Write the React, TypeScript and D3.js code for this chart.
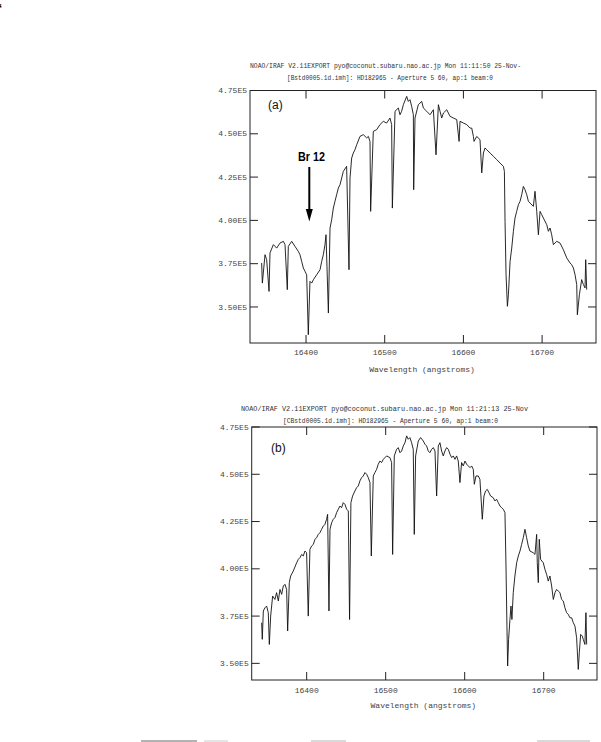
import React from 'react';
import * as d3 from 'd3';

// ---------- Data (flux in units of 1E5) ----------
const wavelengthA = [16343.6,16344.5,16347.9,16350.0,16353.0,16354.2,16358.5,16362.7,16366.9,16371.2,16373.3,16376.2,16377.5,16381.8,16386.0,16390.2,16392.3,16394.5,16396.6,16398.7,16400.8,16402.9,16405.0,16407.2,16409.3,16413.5,16417.8,16419.9,16422.0,16424.1,16425.4,16428.4,16430.5,16432.6,16434.7,16436.8,16438.9,16441.1,16443.2,16447.4,16451.6,16454.6,16455.9,16458.0,16460.1,16462.2,16464.4,16468.6,16472.8,16477.1,16479.2,16481.3,16482.1,16485.5,16489.8,16494.0,16498.2,16502.5,16506.7,16508.8,16509.7,16513.1,16517.3,16519.4,16521.5,16523.7,16527.9,16530.0,16532.1,16534.2,16536.4,16536.8,16538.5,16542.7,16547.0,16549.1,16553.4,16557.6,16561.8,16565.2,16568.2,16570.3,16572.4,16574.6,16578.8,16583.0,16587.3,16591.5,16594.5,16595.7,16600.0,16604.2,16608.4,16610.6,16612.7,16613.5,16616.9,16621.1,16623.3,16625.4,16627.5,16629.6,16633.9,16638.1,16642.3,16646.6,16650.8,16652.1,16652.9,16654.2,16655.9,16657.2,16659.3,16661.4,16663.5,16665.6,16667.7,16669.9,16672.0,16674.1,16676.2,16678.3,16680.5,16682.6,16684.7,16688.9,16691.0,16693.2,16695.3,16697.4,16699.5,16701.6,16705.9,16708.0,16710.1,16712.2,16714.3,16718.6,16722.8,16727.0,16731.3,16735.5,16737.6,16739.8,16741.9,16744.0,16744.8,16747.4,16750.3,16752.5,16754.6,16755.4,16756.7];
const fluxA = [3.754,3.638,3.802,3.773,3.590,3.812,3.860,3.840,3.869,3.879,3.860,3.600,3.850,3.879,3.850,3.821,3.802,3.763,3.725,3.706,3.686,3.340,3.648,3.638,3.657,3.686,3.715,3.763,3.802,3.860,3.917,3.465,3.956,4.004,4.071,4.110,4.148,4.187,4.206,4.283,4.312,3.715,4.245,4.360,4.389,4.408,4.437,4.485,4.495,4.476,4.485,4.456,4.052,4.514,4.524,4.553,4.572,4.562,4.591,4.553,4.071,4.630,4.649,4.610,4.630,4.668,4.716,4.687,4.697,4.659,4.610,4.177,4.591,4.668,4.687,4.649,4.630,4.610,4.639,4.379,4.668,4.630,4.591,4.620,4.639,4.601,4.591,4.582,4.456,4.572,4.562,4.553,4.533,4.533,4.485,4.456,4.485,4.466,4.274,4.389,4.418,4.408,4.389,4.370,4.351,4.331,4.312,4.283,3.994,3.686,3.504,3.571,3.763,3.840,3.937,4.014,4.052,4.091,4.110,4.148,4.196,4.177,4.148,4.110,4.100,4.081,4.168,4.052,3.917,4.052,4.033,4.014,3.975,3.937,3.956,3.917,3.860,3.879,3.869,3.831,3.783,3.754,3.744,3.725,3.686,3.629,3.455,3.571,3.658,3.629,3.610,3.773,3.600];

const wavelengthB = [16343.0,16343.8,16345.1,16347.2,16349.3,16351.4,16352.7,16354.4,16356.9,16359.8,16361.9,16364.1,16366.2,16368.3,16370.4,16372.5,16374.6,16375.9,16378.0,16379.7,16383.0,16387.3,16389.4,16391.5,16393.6,16395.7,16397.8,16399.9,16402.0,16404.1,16406.3,16408.4,16410.5,16412.6,16414.7,16416.8,16418.9,16421.0,16423.1,16425.2,16426.5,16428.2,16429.5,16431.6,16433.7,16435.8,16437.9,16440.0,16442.1,16444.2,16446.3,16448.4,16450.6,16452.7,16454.3,16456.0,16458.1,16461.1,16463.2,16465.3,16467.4,16469.5,16471.6,16473.8,16475.9,16478.0,16480.1,16481.8,16484.3,16486.4,16488.5,16490.6,16492.7,16494.9,16497.0,16499.1,16501.2,16505.4,16507.5,16508.8,16510.9,16513.8,16515.9,16518.1,16520.2,16522.3,16524.4,16526.5,16528.6,16530.7,16532.8,16534.9,16536.2,16537.9,16541.3,16544.2,16547.6,16549.7,16551.8,16553.9,16556.0,16558.2,16560.3,16562.4,16564.5,16566.6,16568.7,16570.8,16572.9,16575.0,16577.2,16579.3,16581.4,16583.5,16585.6,16587.7,16589.8,16591.9,16594.0,16596.1,16598.2,16600.4,16602.5,16604.6,16606.7,16608.8,16610.9,16612.2,16614.3,16617.2,16619.3,16622.3,16624.4,16626.5,16628.6,16630.7,16632.8,16636.2,16638.3,16640.4,16642.5,16644.7,16646.8,16648.9,16651.0,16652.3,16653.5,16654.4,16655.6,16657.3,16658.6,16659.8,16661.5,16663.6,16665.8,16667.9,16670.0,16672.1,16674.2,16676.3,16678.4,16680.5,16682.6,16686.8,16689.0,16691.1,16691.9,16693.2,16694.4,16696.1,16699.5,16701.6,16703.7,16705.8,16707.9,16710.1,16712.2,16714.3,16716.4,16718.5,16720.6,16722.7,16724.8,16726.9,16729.0,16731.1,16733.3,16735.4,16737.5,16739.6,16741.7,16743.8,16745.1,16746.8,16748.9,16750.1,16752.2,16753.5,16754.4];
const fluxB = [3.715,3.627,3.777,3.794,3.803,3.768,3.600,3.750,3.856,3.838,3.874,3.830,3.891,3.865,3.909,3.918,3.891,3.671,3.927,3.962,3.988,4.032,4.050,4.059,4.076,4.068,4.094,4.085,3.750,4.103,4.121,4.129,4.156,4.165,4.182,4.191,4.209,4.226,4.235,4.262,4.288,3.777,4.209,4.244,4.262,4.271,4.297,4.315,4.332,4.323,4.350,4.341,4.315,4.306,3.732,4.350,4.385,4.412,4.429,4.438,4.465,4.482,4.491,4.509,4.500,4.482,4.456,4.068,4.491,4.509,4.526,4.553,4.570,4.562,4.579,4.588,4.597,4.588,4.562,4.076,4.597,4.632,4.641,4.614,4.623,4.650,4.667,4.703,4.685,4.694,4.667,4.632,4.182,4.597,4.676,4.694,4.676,4.659,4.650,4.623,4.614,4.632,4.641,4.623,4.385,4.650,4.667,4.623,4.597,4.623,4.641,4.632,4.606,4.588,4.597,4.579,4.597,4.570,4.456,4.562,4.544,4.570,4.553,4.544,4.535,4.544,4.526,4.447,4.491,4.491,4.473,4.262,4.385,4.412,4.420,4.403,4.385,4.376,4.359,4.368,4.350,4.332,4.323,4.315,4.297,4.015,3.697,3.486,3.627,3.732,3.803,3.732,3.874,3.962,4.032,4.068,4.094,4.129,4.165,4.209,4.165,4.121,4.094,4.085,4.076,4.182,4.032,3.927,4.156,4.050,4.032,3.997,3.971,3.935,3.962,3.909,3.838,3.874,3.891,3.882,3.874,3.838,3.830,3.794,3.768,3.759,3.741,3.741,3.715,3.697,3.635,3.468,3.556,3.653,3.644,3.627,3.600,3.768,3.600];

const xTickValues = [16400, 16500, 16600, 16700];
const yTickValues = [3.5, 3.75, 4.0, 4.25, 4.5, 4.75];
const yTickLabels = ['3.50E5', '3.75E5', '4.00E5', '4.25E5', '4.50E5', '4.75E5'];

const titleA1 = 'NOAO/IRAF V2.11EXPORT pyo@coconut.subaru.nao.ac.jp Mon 11:11:50 25-Nov-';
const titleA2 = '[Bstd0005.1d.imh]: HD182965 - Aperture 5 60, ap:1 beam:0';
const titleB1 = 'NOAO/IRAF V2.11EXPORT pyo@coconut.subaru.nao.ac.jp Mon 11:21:13 25-Nov';
const titleB2 = '[CBstd0005.1d.imh]: HD182965 - Aperture 5 60, ap:1 beam:0';
const xAxisTitle = 'Wavelength (angstroms)';

const MONO = '"Liberation Mono", "DejaVu Sans Mono", monospace';
const SANS = '"Liberation Sans", Arial, sans-serif';

type PanelProps = {
  wl: number[]; flux: number[];
  left: number; right: number; top: number; bottom: number;
  xDomain: [number, number]; yDomain: [number, number];
  t1: string; t2: string;
  t1x: number; t1w: number; t1y: number;
  t2x: number; t2w: number; t2y: number;
  xLabelY: number; xTitleY: number;
  tag: string; tagX: number; tagY: number;
  children?: React.ReactNode;
};

function Panel(p: PanelProps) {
  const x = d3.scaleLinear().domain(p.xDomain).range([p.left, p.right]);
  const y = d3.scaleLinear().domain(p.yDomain).range([p.bottom, p.top]);
  const pts = p.wl.map((w, i) => [w, p.flux[i]] as [number, number]);
  const line = d3.line<[number, number]>().x(d => x(d[0])).y(d => y(d[1]));
  const tl = 8;
  return (
    <g>
      <text x={p.t1x} y={p.t1y} fontFamily={MONO} fontSize={6.6} fill="#333"
        textLength={p.t1w} lengthAdjust="spacingAndGlyphs">{p.t1}</text>
      <text x={p.t2x} y={p.t2y} fontFamily={MONO} fontSize={6.6} fill="#333"
        textLength={p.t2w} lengthAdjust="spacingAndGlyphs">{p.t2}</text>
      <rect x={p.left} y={p.top} width={p.right - p.left} height={p.bottom - p.top}
        fill="none" stroke="#222" strokeWidth={1} />
      {xTickValues.map(v => (
        <g key={'x' + v}>
          <line x1={x(v)} x2={x(v)} y1={p.bottom} y2={p.bottom - tl} stroke="#222" />
          <line x1={x(v)} x2={x(v)} y1={p.top} y2={p.top + tl} stroke="#222" />
          <text x={x(v)} y={p.xLabelY} textAnchor="middle" fontFamily={MONO} fontSize={8} fill="#444">{v}</text>
        </g>
      ))}
      {yTickValues.map((v, i) => (
        <g key={'y' + v}>
          <line x1={p.left} x2={p.left + tl} y1={y(v)} y2={y(v)} stroke="#222" />
          <line x1={p.right} x2={p.right - tl} y1={y(v)} y2={y(v)} stroke="#222" />
          <text x={p.left - 3} y={y(v)} dy="0.33em" textAnchor="end" fontFamily={MONO} fontSize={8} fill="#444">{yTickLabels[i]}</text>
        </g>
      ))}
      <text x={(p.left + p.right) / 2 - 1} y={p.xTitleY} textAnchor="middle" fontFamily={MONO} fontSize={8} fill="#444">{xAxisTitle}</text>
      <path d={line(pts) || ''} fill="none" stroke="#111" strokeWidth={0.9} strokeLinejoin="round" />
      <text x={p.tagX} y={p.tagY} fontFamily={SANS} fontSize={12} fill="#111">{p.tag}</text>
      {p.children}
    </g>
  );
}

export default function App() {
  return (
    <svg width={601} height={742} style={{ position: 'absolute', left: 0, top: 0, background: '#fff' }}>
      <rect x={0} y={0} width={601} height={742} fill="#fff" />
      <text x={-1} y={12} fontFamily={SANS} fontSize={11} fontWeight="bold" fill="#000">‘</text>
      <Panel wl={wavelengthA} flux={fluxA}
        left={250} right={596} top={90.5} bottom={343}
        xDomain={[16328.8, 16768.5]} yDomain={[3.292, 4.75]}
        t1={titleA1} t2={titleA2}
        t1x={250} t1w={271} t1y={68} t2x={287} t2w={206} t2y={80}
        xLabelY={355} xTitleY={372}
        tag="(a)" tagX={268} tagY={109}>
        <text x={298} y={161} fontFamily={SANS} fontSize={13} fontWeight="bold" fill="#000"
          textLength={27} lengthAdjust="spacingAndGlyphs">Br 12</text>
        <line x1={309.3} x2={309.3} y1={167} y2={211} stroke="#000" strokeWidth={2} />
        <path d="M305.8,209 L312.8,209 L309.3,221.5 Z" fill="#000" />
      </Panel>
      <Panel wl={wavelengthB} flux={fluxB}
        left={251.7} right={597} top={427} bottom={680}
        xDomain={[16330.4, 16767.5]} yDomain={[3.412, 4.75]}
        t1={titleB1} t2={titleB2}
        t1x={241} t1w={287} t1y={411} t2x={283} t2w={215} t2y={423}
        xLabelY={693} xTitleY={708}
        tag="(b)" tagX={271} tagY={452} />
      <line x1={141} x2={197} y1={741} y2={741} stroke="#999" strokeWidth={1.5} />
      <line x1={204} x2={228} y1={741} y2={741} stroke="#ddd" strokeWidth={1.5} />
      <line x1={311} x2={346} y1={741} y2={741} stroke="#ccc" strokeWidth={1.5} />
      <line x1={537} x2={590} y1={741} y2={741} stroke="#ccc" strokeWidth={1.5} />
    </svg>
  );
}
